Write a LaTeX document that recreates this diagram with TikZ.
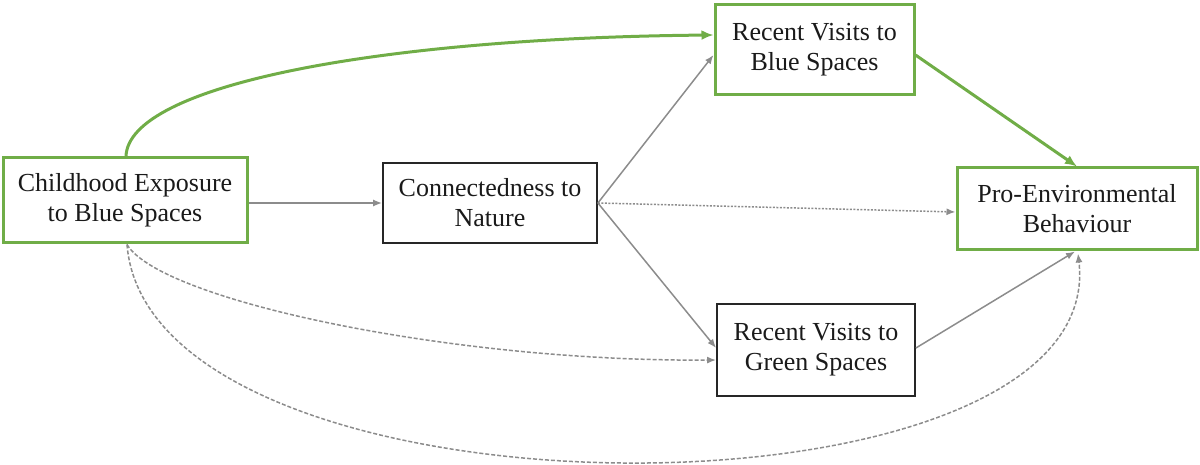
\documentclass[tikz,border=0pt]{standalone}
\usepackage{fontspec}
\setmainfont{Liberation Serif}
\usetikzlibrary{arrows.meta,calc}
\definecolor{boxgreen}{RGB}{112,173,71}
\definecolor{linegray}{RGB}{140,140,140}
\definecolor{txt}{RGB}{26,26,26}
\begin{document}
\begin{tikzpicture}[x=1pt,y=-1pt,
  box/.style={draw=black!85, line width=1.8pt, align=center, inner sep=0pt,
    font=\fontsize{26}{30}\selectfont, text=txt},
  gbox/.style={box, draw=boxgreen, line width=3pt},
  garrow/.style={draw=boxgreen, line width=3pt, -{Latex[length=12pt,width=10pt]}},
  parrow/.style={draw=linegray, line width=1.5pt, -{Latex[length=9pt,width=7pt]}},
  dashedarrow/.style={parrow, dash pattern=on 4pt off 2pt},
  dottedarrow/.style={parrow, dash pattern=on 2pt off 1.5pt}]
\useasboundingbox (0,0) rectangle (1200,465);

\node[gbox, minimum width=244pt, minimum height=85pt] (child) at (125,200.5)
  {Childhood Exposure\\to Blue Spaces};
\node[box, minimum width=214pt, minimum height=80pt] (conn) at (490,203)
  {Connectedness to\\Nature};
\node[gbox, minimum width=199pt, minimum height=90pt] (blue) at (814.5,50)
  {Recent Visits to\\Blue Spaces};
\node[gbox, minimum width=240pt, minimum height=82pt] (pro) at (1077,209)
  {Pro-Environmental\\Behaviour};
\node[box, minimum width=198pt, minimum height=92pt] (green) at (816,350)
  {Recent Visits to\\Green Spaces};

% green paths
\draw[garrow] ($(child.north)+(1,0)$) .. controls (128,85) and (380,38) .. ($(blue.west)+(0,-15)$);
\draw[garrow] ($(blue.east)+(0,5)$) -- (pro.north);

% gray solid
\draw[parrow] ($(child.east)+(0,2.5)$) -- (conn.west);
\draw[parrow] (conn.east) -- ($(blue.west)+(0,5)$);
\draw[parrow] (conn.east) -- ($(green.west)+(0,-2)$);
\draw[parrow] ($(green.east)+(0,-2)$) -- ($(pro.south)+(-2,0)$);

% dotted
\draw[dottedarrow] (conn.east) -- ($(pro.west)+(0,3)$);

% dashed curves
\draw[dashedarrow] ($(child.south)+(2,0)$) .. controls (160,300) and (450,362) .. ($(green.west)+(0,10)$);
\draw[dashedarrow] ($(child.south)+(2,0)$) .. controls (150,533) and (1110,533) .. ($(pro.south)+(1,2)$);
\end{tikzpicture}
\end{document}
